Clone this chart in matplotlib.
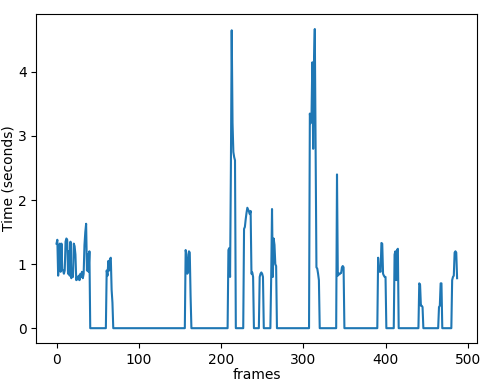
import numpy as np
import matplotlib
matplotlib.use('Agg')
import matplotlib.pyplot as plt

# total frames in the recording
n_frames = 488

# bursts of non-zero processing time: (first frame, values)
burst_start = [0, 61, 157, 209, 228, 247, 261, 308, 341, 391, 411, 441, 465, 481]
burst_values = [
    [1.32, 1.38, 0.82, 1.15, 1.32, 0.88, 1.32, 0.92, 0.9, 0.85,
     0.9, 1.35, 1.4, 1.38, 0.85, 1.2, 0.82, 1.35, 0.78, 0.85,
     0.8, 1.32, 1.28, 1.15, 0.75, 0.8, 0.76, 0.82, 0.75, 0.85,
     0.8, 0.88, 0.78, 0.85, 1.3, 1.5, 1.63, 0.9, 1.15, 0.88, 1.2],
    [0.9, 0.82, 1.05, 0.9, 1.08, 1.1, 0.6, 0.4],
    [1.22, 1.15, 0.85, 0.88, 1.2, 1.18, 0.5],
    [1.22, 1.25, 0.8, 2.5, 4.65, 3.2, 2.75, 2.67, 2.62],
    [1.55, 1.58, 1.7, 1.8, 1.88, 1.85, 1.82, 1.78, 1.83, 0.85, 0.87, 0.8],
    [0.8, 0.85, 0.87, 0.85, 0.8],
    [0.8, 1.86, 0.8, 1.4, 1.3, 1.0, 0.97],
    [3.35, 3.2, 3.3, 4.15, 2.8, 4.15, 4.67, 2.8, 0.95, 0.93, 0.85, 0.75],
    [2.4, 0.82, 0.85, 0.84, 0.86, 0.86, 0.95, 0.97, 0.95],
    [1.1, 0.88, 0.9, 0.88, 1.33, 1.32, 0.85, 0.82, 0.8, 0.8],
    [1.15, 1.2, 0.75, 1.22, 1.24],
    [0.7, 0.68, 0.35, 0.35, 0.33],
    [0.33, 0.35, 0.7, 0.7],
    [0.75, 0.8, 0.82, 1.18, 1.2, 1.18, 0.78],
]

times = np.zeros(n_frames)
for start, vals in zip(burst_start, burst_values):
    times[start:start + len(vals)] = vals

fig = plt.figure(figsize=(4.8, 3.8), dpi=100)
ax = fig.add_subplot(111)
ax.plot(np.arange(n_frames), times)
ax.set_xlabel('frames', labelpad=0.5)
ax.set_ylabel('Time (seconds)', labelpad=2)
fig.subplots_adjust(left=0.076, right=0.994, top=0.963, bottom=0.097)
fig.savefig('out.png', dpi=100)
